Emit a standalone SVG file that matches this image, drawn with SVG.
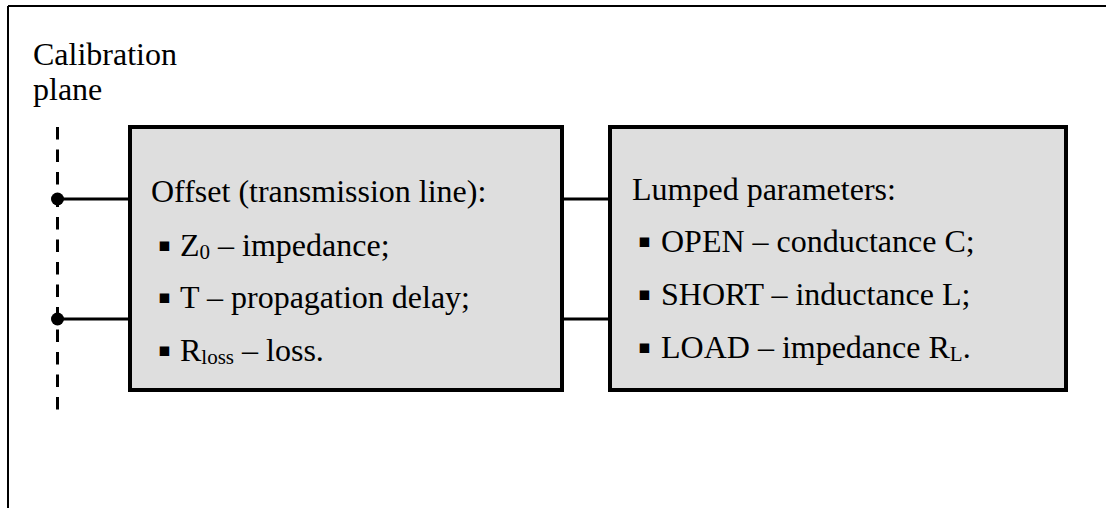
<svg xmlns="http://www.w3.org/2000/svg" width="1109" height="508" viewBox="0 0 1109 508">
<style>
.t{font-family:"Liberation Serif","Times New Roman",serif;font-size:32px;fill:#000}
.b{font-family:"DejaVu Sans",sans-serif;font-size:19px;fill:#000}
.sub{font-size:21px}
.box{fill:#dedede;stroke:#000;stroke-width:4}
.ln{stroke:#000;stroke-width:3.2;fill:none}
</style>
<rect width="1109" height="508" fill="#fff"/>
<g id="frame">
<path d="M8 6 H1106 M8 6 V508" stroke="#000" stroke-width="2" fill="none"/>
</g>
<g id="calibration-plane">
<text class="t" x="33" y="65">Calibration</text>
<text class="t" x="33" y="100">plane</text>
<line x1="57.5" y1="127" x2="57.5" y2="415" stroke="#000" stroke-width="3" stroke-dasharray="12.5 10"/>
<circle cx="57.5" cy="199" r="6.5" fill="#000"/>
<circle cx="57.5" cy="319" r="6.5" fill="#000"/>
</g>
<g id="connectors">
<line class="ln" x1="57.5" y1="199" x2="130" y2="199"/>
<line class="ln" x1="57.5" y1="319" x2="130" y2="319"/>
<line class="ln" x1="562" y1="199" x2="610" y2="199"/>
<line class="ln" x1="562" y1="319" x2="610" y2="319"/>
</g>
<g id="offset">
<rect class="box" x="130" y="127" width="432" height="263"/>
<text class="t" x="151" y="202">Offset (transmission line):</text>
<text class="b" x="158" y="251">▪</text>
<text class="t" x="180" y="256">Z<tspan class="sub" dy="3">0</tspan><tspan dy="-3"> – impedance;</tspan></text>
<text class="b" x="158" y="303">▪</text>
<text class="t" x="180" y="308">T – propagation delay;</text>
<text class="b" x="158" y="356">▪</text>
<text class="t" x="180" y="361">R<tspan class="sub" dy="3">loss</tspan><tspan dy="-3"> – loss.</tspan></text>
</g>
<g id="lumped">
<rect class="box" x="610" y="127" width="456" height="263"/>
<text class="t" x="632" y="200">Lumped parameters:</text>
<text class="b" x="638" y="247">▪</text>
<text class="t" x="661" y="252">OPEN – conductance C;</text>
<text class="b" x="638" y="300">▪</text>
<text class="t" x="661" y="305">SHORT – inductance L;</text>
<text class="b" x="638" y="353">▪</text>
<text class="t" x="661" y="358">LOAD – impedance R<tspan class="sub" dy="3">L</tspan><tspan dy="-3">.</tspan></text>
</g>
</svg>
